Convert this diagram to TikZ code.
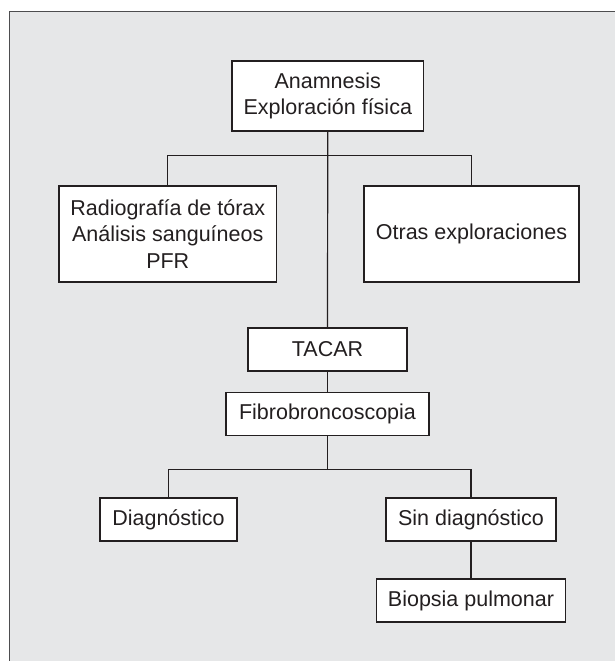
\documentclass[tikz,border=0pt]{standalone}
\usepackage{fontspec}
\setmainfont{Liberation Sans}
\definecolor{bgray}{HTML}{E6E7E8}
\definecolor{ink}{HTML}{231F20}
\definecolor{framec}{HTML}{4D4D4F}
\begin{document}
\begin{tikzpicture}[x=1pt,y=-1pt,
  box/.style={draw=ink, fill=white, line width=1.2pt, inner sep=0pt, align=center,
    font=\fontsize{21.5}{26.7}\selectfont, text=ink},
  link/.style={draw=ink, line width=1.2pt}]
\useasboundingbox (0,0) rectangle (615,661);
\fill[white] (0,0) rectangle (615,661);
\fill[bgray] (9,12) rectangle (615,661);
\draw[framec, line width=1pt] (9,661) -- (9,12) -- (615,12);

\node[box, minimum width=191.5pt, minimum height=70pt] (top) at (327.75,96) {Anamnesis\\Exploración física};
\node[box, minimum width=217.5pt, minimum height=96pt] (rad) at (167.75,234) {Radiografía de tórax\\Análisis sanguíneos\\PFR};
\node[box, minimum width=215pt, minimum height=96pt] (otras) at (471.5,234) {Otras exploraciones};
\node[box, minimum width=159pt, minimum height=43pt] (tacar) at (327.5,349.5) {TACAR};
\node[box, minimum width=203pt, minimum height=43pt] (fibro) at (327.5,413.8) {Fibrobroncoscopia};
\node[box, minimum width=137pt, minimum height=43pt] (diag) at (168.5,519.5) {Diagnóstico};
\node[box, minimum width=170pt, minimum height=43pt] (sin) at (471,519.5) {Sin diagnóstico};
\node[box, minimum width=189.5pt, minimum height=43pt] (bio) at (471,600.5) {Biopsia pulmonar};

\coordinate (b1) at (327.75,155.7);
\coordinate (b2) at (327.5,469.7);

\draw[link] (top.south) -- (tacar.north);
\draw[link] (rad.north) |- (b1) -| (otras.north);
\draw[link] (tacar.south) -- (fibro.north);
\draw[link] (fibro.south) -- (b2);
\draw[link] (diag.north) |- (b2) -| (sin.north);
\draw[link] (sin.south) -- (bio.north);
\end{tikzpicture}
\end{document}
